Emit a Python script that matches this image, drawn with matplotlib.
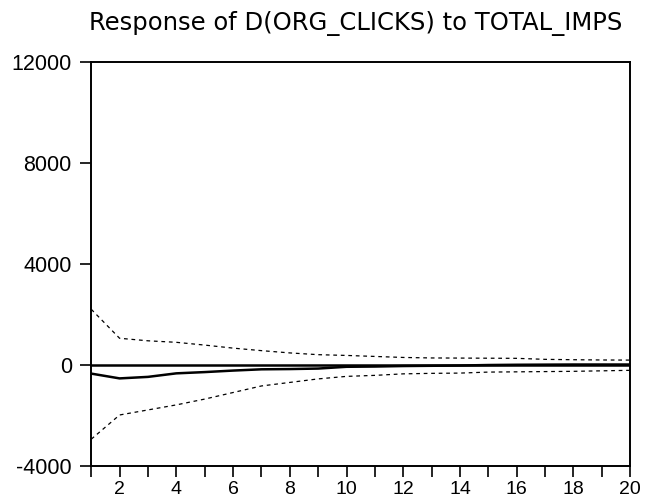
import matplotlib.pyplot as plt
import numpy as np

plt.rcParams['font.family'] = ['Liberation Sans', 'DejaVu Sans']
plt.rcParams['axes.unicode_minus'] = False

periods = np.arange(1, 21)
response = [-350, -540, -480, -340, -290, -230, -180, -170, -150, -80,
            -70, -50, -40, -30, -10, 0, 5, 10, 10, 10]
upper = [2200, 1050, 950, 890, 780, 660, 560, 470, 400, 370,
         330, 290, 270, 265, 260, 255, 215, 200, 190, 185]
lower = [-2950, -1990, -1790, -1590, -1360, -1100, -840, -700, -560, -460,
         -420, -360, -340, -330, -290, -280, -270, -260, -240, -220]

y_ticks = [-4000, 0, 4000, 8000, 12000]
title = 'Response of D(ORG_CLICKS) to TOTAL_IMPS'


def main():
  fig = plt.figure(figsize=(6.47, 5.04), dpi=100)
  ax = fig.add_axes([0.141, 0.076, 0.833, 0.801])

  ax.axhline(0, color='black', lw=1.8)
  ax.plot(periods, response, color='black', lw=1.8)
  ax.plot(periods, upper, color='black', lw=0.9, dashes=(3, 3))
  ax.plot(periods, lower, color='black', lw=0.9, dashes=(3, 3))

  ax.set_xlim(1, 20)
  ax.set_ylim(-4000, 12000)
  ax.set_yticks(y_ticks)
  ax.set_xticks(periods)
  ax.set_xticklabels([str(p) if p % 2 == 0 else '' for p in periods])

  ax.tick_params(axis='both', direction='out', width=1.2, colors='black')
  ax.tick_params(axis='y', length=8, pad=6, labelsize=15.5)
  ax.tick_params(axis='x', length=8, pad=3, labelsize=14)
  for side in ax.spines.values():
    side.set_linewidth(1.4)

  fig.text(0.549, 0.954, title, ha='center', va='center', fontsize=17.5,
           family='DejaVu Sans')

  fig.savefig('out.png', dpi=100)


if __name__ == '__main__':
  main()
